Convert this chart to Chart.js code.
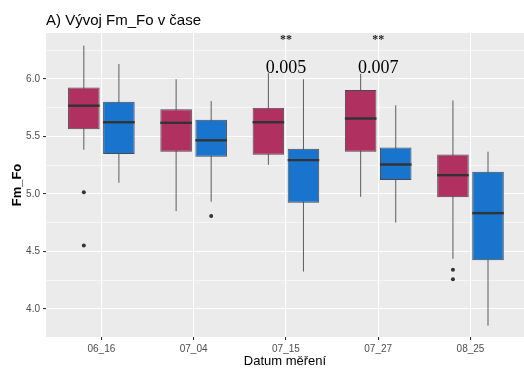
<!DOCTYPE html>
<html>
<head>
<meta charset="utf-8">
<script src="https://cdn.jsdelivr.net/npm/chart.js@4.4.1/dist/chart.umd.min.js"></script>
<style>
  html, body { margin: 0; padding: 0; background: #ffffff; }
  #wrap { width: 524px; height: 369px; }
</style>
</head>
<body>
<div id="wrap"><canvas id="c" width="524" height="369"></canvas></div>
<script>
// Measurement dates (x categories)
const categories = ['06_16', '07_04', '07_15', '07_27', '08_25'];

// First series (magenta boxes): whisker ends, quartiles, median, outliers
const lowA  = [5.385, 4.851, 5.254, 4.976, 4.437];
const q1A   = [5.563, 5.368, 5.342, 5.368, 4.971];
const medA  = [5.768, 5.619, 5.624, 5.657, 5.164];
const q3A   = [5.926, 5.736, 5.750, 5.905, 5.344];
const highA = [6.290, 5.998, 6.050, 6.045, 5.814];
const outA  = [[5.015, 4.553], [], [], [], [4.341, 4.258]];

// Second series (blue boxes)
const lowB  = [5.099, 4.933, 4.326, 4.752, 3.856];
const q1B   = [5.348, 5.324, 4.924, 5.123, 4.425];
const medB  = [5.624, 5.467, 5.295, 5.257, 4.834];
const q3B   = [5.803, 5.645, 5.394, 5.405, 5.193];
const highB = [6.130, 5.808, 5.998, 5.771, 5.368];
const outB  = [[], [4.810], [], [], []];

// Test results printed above the groups
const pValueLabels = ['', '', '0.005', '0.007', ''];
const starLabels   = ['', '', '**', '**', ''];

// Axis ticks
const yMajorTicks = [4.0, 4.5, 5.0, 5.5, 6.0];
const yTickLabels = ['4.0', '4.5', '5.0', '5.5', '6.0'];
const yMinorTicks = [4.25, 4.75, 5.25, 5.75, 6.25];

const SANS = '"Liberation Sans", Arial, sans-serif';
const SERIF = '"Liberation Serif", "Times New Roman", serif';
const PANEL = '#EBEBEB';

const stats = [
  { low: lowA, med: medA, high: highA, out: outA },
  { low: lowB, med: medB, high: highB, out: outB }
];

function isMajor(v) {
  return yMajorTicks.some(t => Math.abs(t - v) < 1e-9);
}

// Grey panel behind the grid
const panelBg = {
  id: 'panelBg',
  beforeDraw(chart) {
    const { ctx, chartArea: a } = chart;
    ctx.save();
    ctx.fillStyle = PANEL;
    ctx.fillRect(a.left, a.top, a.right - a.left, a.bottom - a.top);
    ctx.restore();
  }
};

// Whiskers, medians, outliers and the p-value labels
const boxExtras = {
  id: 'boxExtras',
  beforeDatasetsDraw(chart) {
    const { ctx } = chart;
    const ys = chart.scales.y;
    ctx.save();
    ctx.strokeStyle = '#5c5c5c';
    ctx.lineWidth = 1;
    stats.forEach((s, d) => {
      chart.getDatasetMeta(d).data.forEach((bar, i) => {
        ctx.beginPath();
        ctx.moveTo(bar.x, ys.getPixelForValue(s.low[i]));
        ctx.lineTo(bar.x, ys.getPixelForValue(s.high[i]));
        ctx.stroke();
      });
    });
    ctx.restore();
  },
  afterDatasetsDraw(chart) {
    const { ctx } = chart;
    const ys = chart.scales.y;
    const xs = chart.scales.x;
    ctx.save();
    stats.forEach((s, d) => {
      chart.getDatasetMeta(d).data.forEach((bar, i) => {
        const half = bar.width / 2;
        const ym = ys.getPixelForValue(s.med[i]);
        ctx.strokeStyle = '#333333';
        ctx.lineWidth = 2.4;
        ctx.beginPath();
        ctx.moveTo(bar.x - half, ym);
        ctx.lineTo(bar.x + half, ym);
        ctx.stroke();
        ctx.fillStyle = '#333333';
        s.out[i].forEach(v => {
          ctx.beginPath();
          ctx.arc(bar.x, ys.getPixelForValue(v), 2, 0, Math.PI * 2);
          ctx.fill();
        });
      });
    });
    ctx.textAlign = 'center';
    ctx.textBaseline = 'middle';
    categories.forEach((c, i) => {
      const x = xs.getPixelForValue(i);
      if (pValueLabels[i]) {
        ctx.fillStyle = '#000000';
        ctx.font = '18px ' + SERIF;
        ctx.fillText(pValueLabels[i], x, ys.getPixelForValue(6.095));
      }
      if (starLabels[i]) {
        ctx.fillStyle = '#222222';
        ctx.font = 'bold 12px ' + SERIF;
        ctx.fillText(starLabels[i], x, ys.getPixelForValue(6.34));
      }
    });
    ctx.restore();
  },
  afterDraw(chart) {
    const { ctx, chartArea: a } = chart;
    ctx.save();
    ctx.fillStyle = '#000000';
    ctx.font = '15px ' + SANS;
    ctx.textAlign = 'left';
    ctx.textBaseline = 'alphabetic';
    ctx.fillText('A) Vývoj Fm_Fo v čase', a.left, 25);
    ctx.restore();
  }
};

function boxData(q1, q3) {
  return categories.map((c, i) => ({ x: i, y: [q1[i], q3[i]] }));
}

new Chart(document.getElementById('c'), {
  type: 'bar',
  data: {
    datasets: [
      {
        data: boxData(q1A, q3A),
        backgroundColor: '#B03060',
        borderColor: '#4a4a4a',
        borderWidth: 1,
        borderSkipped: false,
        categoryPercentage: 0.76,
        barPercentage: 0.9
      },
      {
        data: boxData(q1B, q3B),
        backgroundColor: '#1874CD',
        borderColor: '#4a4a4a',
        borderWidth: 1,
        borderSkipped: false,
        categoryPercentage: 0.76,
        barPercentage: 0.9
      }
    ]
  },
  options: {
    responsive: false,
    animation: false,
    devicePixelRatio: 1,
    layout: { padding: { top: 33, right: 0, left: 0, bottom: 0 } },
    plugins: {
      legend: { display: false },
      tooltip: { enabled: false },
      title: { display: false }
    },
    scales: {
      x: {
        type: 'linear',
        offset: false,
        min: -0.6,
        max: 4.58,
        afterBuildTicks(scale) {
          scale.ticks = categories.map((c, i) => ({ value: i }));
        },
        afterFit(scale) { scale.height = 32; },
        border: { display: false },
        grid: {
          offset: false,
          color: '#ffffff',
          lineWidth: 1.1,
          tickColor: '#333333',
          tickLength: 3
        },
        ticks: {
          autoSkip: false,
          maxRotation: 0,
          padding: 3,
          color: '#4d4d4d',
          font: { family: SANS, size: 10 },
          callback: v => categories[v]
        },
        title: {
          display: true,
          text: 'Datum měření',
          color: '#000000',
          font: { family: SANS, size: 13 },
          padding: { top: 0, bottom: 0 }
        }
      },
      y: {
        type: 'linear',
        min: 3.757,
        max: 6.4,
        afterBuildTicks(scale) {
          scale.ticks = yMajorTicks.concat(yMinorTicks)
            .sort((a, b) => a - b)
            .map(v => ({ value: v }));
        },
        afterFit(scale) { scale.width = 46; },
        border: { display: false },
        grid: {
          color: '#ffffff',
          lineWidth: ctx => (ctx.tick && isMajor(ctx.tick.value)) ? 1.1 : 0.55,
          tickColor: ctx => (ctx.tick && isMajor(ctx.tick.value)) ? '#333333' : 'rgba(0,0,0,0)',
          tickLength: 3
        },
        ticks: {
          autoSkip: false,
          padding: 3,
          color: '#4d4d4d',
          font: { family: SANS, size: 10 },
          callback: v => {
            const k = yMajorTicks.findIndex(t => Math.abs(t - v) < 1e-9);
            return k >= 0 ? yTickLabels[k] : '';
          }
        },
        title: {
          display: true,
          text: 'Fm_Fo',
          color: '#000000',
          font: { family: SANS, size: 13, weight: 'bold' },
          padding: { top: 10, bottom: 0 }
        }
      }
    }
  },
  plugins: [panelBg, boxExtras]
});
</script>
</body>
</html>
